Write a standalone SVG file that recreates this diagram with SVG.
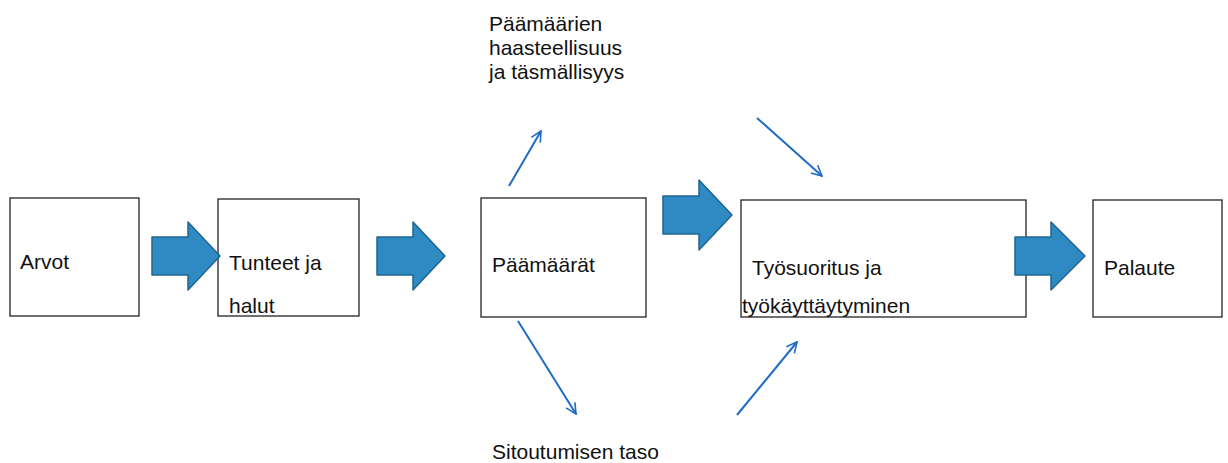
<svg xmlns="http://www.w3.org/2000/svg" width="1228" height="463" viewBox="0 0 1228 463">
<defs>
<style>
.box{fill:#fff;stroke:#222;stroke-width:1.3}
.t{font-family:"Liberation Sans",Arial,sans-serif;font-size:21px;fill:#111}
.big{fill:#2f8ac4;stroke:#1f6590;stroke-width:1.5;stroke-linejoin:round}
.thin{fill:none;stroke:#1e6cc4;stroke-width:2}
</style>
<marker id="ah" viewBox="0 0 20 20" refX="18" refY="10" markerWidth="13" markerHeight="13" markerUnits="userSpaceOnUse" orient="auto">
<path d="M2,2 L18,10 L2,18" fill="none" stroke="#1e6cc4" stroke-width="2.5"/>
</marker>
</defs>
<rect width="1228" height="463" fill="#fff"/>
<g id="arvot"><rect class="box" x="10" y="198" width="129" height="118"/><text class="t" x="20" y="269">Arvot</text></g>
<g id="tunteet"><rect class="box" x="218" y="199" width="141" height="117"/><text class="t" x="229" y="270">Tunteet ja</text><text class="t" x="229" y="313">halut</text></g>
<g id="paamaarat"><rect class="box" x="481" y="198" width="165" height="119"/><text class="t" x="492" y="272">Päämäärät</text></g>
<g id="tyosuoritus"><rect class="box" x="741" y="200" width="285" height="117"/><text class="t" x="752" y="275">Työsuoritus ja</text><text class="t" x="742" y="313">työkäyttäytyminen</text></g>
<g id="palaute"><rect class="box" x="1093" y="200" width="129" height="117"/><text class="t" x="1104" y="275">Palaute</text></g>
<g id="haaste"><text class="t" x="489" y="31">Päämäärien</text><text class="t" x="489" y="55">haasteellisuus</text><text class="t" x="489" y="79">ja täsmällisyys</text></g>
<g id="sitoutuminen"><text class="t" x="492" y="459">Sitoutumisen taso</text></g>
<g id="connectors">
<path class="big" d="M152,237 H188 V222 L220,256 L188,290 V275 H152 Z"/>
<path class="big" d="M377,237 H413 V222 L445,256 L413,290 V275 H377 Z"/>
<path class="big" d="M663,196 H699 V180 L732,215 L699,250 V234 H663 Z"/>
<path class="big" d="M1015,237 H1051 V222 L1085,256 L1051,290 V275 H1015 Z"/>
<line class="thin" x1="509" y1="186" x2="541" y2="131" marker-end="url(#ah)"/>
<line class="thin" x1="518" y1="321" x2="576" y2="414" marker-end="url(#ah)"/>
<line class="thin" x1="757" y1="118" x2="822" y2="176" marker-end="url(#ah)"/>
<line class="thin" x1="737" y1="415" x2="797" y2="342" marker-end="url(#ah)"/>
</g>
</svg>
